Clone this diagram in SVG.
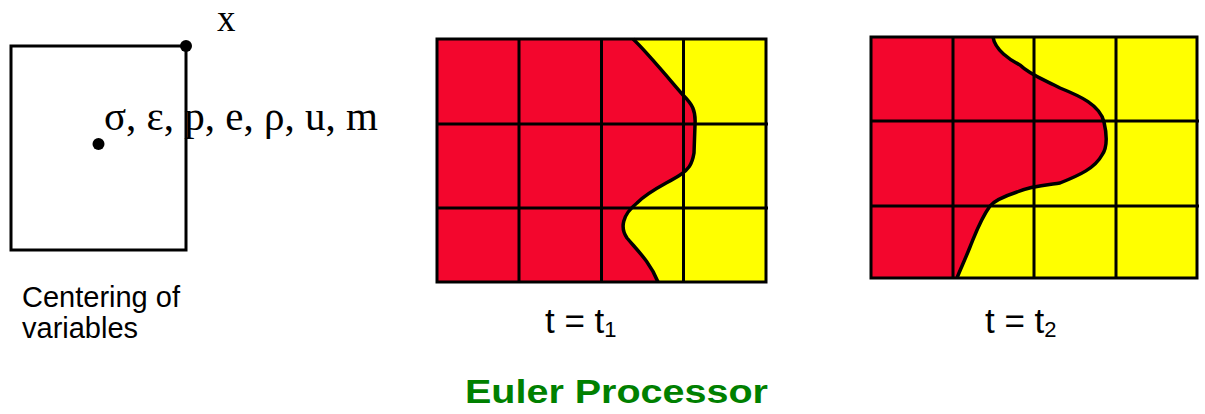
<svg xmlns="http://www.w3.org/2000/svg" width="1205" height="414" viewBox="0 0 1205 414">
<style>
.ln{stroke:#000;stroke-width:3;fill:none}
.cv{stroke:#000;stroke-width:3.5;fill:none;stroke-linejoin:round}
.red{fill:#f3062d}
.yel{fill:#ffff00}
.serif{font-family:"Liberation Serif","Times New Roman",serif;fill:#000}
.sans{font-family:"Liberation Sans",Arial,sans-serif;fill:#000}
</style>
<rect width="1205" height="414" fill="#fff"/>
<g id="cell">
<rect x="11" y="46" width="175" height="204" class="ln"/>
<circle cx="186" cy="46" r="6" fill="#000"/>
<circle cx="98.5" cy="144" r="6" fill="#000"/>
<text x="217" y="31" class="serif" font-size="37">x</text>
<text x="104" y="130" class="serif" font-size="41">σ, ε, p, e, ρ, u, m</text>
<text x="22" y="307" class="sans" font-size="29">Centering of</text>
<text x="22" y="338" class="sans" font-size="29">variables</text>
</g>
<g id="grid1">
<rect x="437" y="39" width="329" height="243" class="yel"/>
<path class="red" d="M437,39 L633,39 C645,50 670,80 683,95 C692,104 696,110 695,125 L694,153 C692,165 688,170 680,175 C668,183 650,190 637,203 C622,215 620,228 627,238 C637,250 650,262 658,282 L437,282 Z"/>
<path class="cv" d="M633,39 C645,50 670,80 683,95 C692,104 696,110 695,125 L694,153 C692,165 688,170 680,175 C668,183 650,190 637,203 C622,215 620,228 627,238 C637,250 650,262 658,282"/>
<rect x="437" y="39" width="329" height="243" class="ln"/>
<path class="ln" d="M519,39V282M601.5,39V282M683.5,39V282M436,124H768M436,208H768"/>
<text x="545" y="333" class="sans" font-size="35">t = t<tspan font-size="22" dy="4">1</tspan></text>
</g>
<g id="grid2">
<rect x="871" y="37" width="326" height="241" class="yel"/>
<path class="red" d="M871,37 L993,37 C995,50 1010,60 1020,65 C1030,75 1045,80 1060,88 C1080,96 1100,105 1104,122 C1107,135 1107,148 1102,155 C1095,168 1080,175 1060,183 C1045,185 1030,186 1017,192 C1005,196 995,200 990,206 C980,220 975,235 970,247 C964,262 960,270 957,278 L871,278 Z"/>
<path class="cv" d="M993,37 C995,50 1010,60 1020,65 C1030,75 1045,80 1060,88 C1080,96 1100,105 1104,122 C1107,135 1107,148 1102,155 C1095,168 1080,175 1060,183 C1045,185 1030,186 1017,192 C1005,196 995,200 990,206 C980,220 975,235 970,247 C964,262 960,270 957,278"/>
<rect x="871" y="37" width="326" height="241" class="ln"/>
<path class="ln" d="M953,37V278M1034,37V278M1116,37V278M871,121H1199M871,206H1199"/>
<text x="985" y="333" class="sans" font-size="35">t = t<tspan font-size="22" dy="4">2</tspan></text>
</g>
<g id="connectors"></g>
<text x="616.5" y="403" text-anchor="middle" font-family="Liberation Sans,Arial,sans-serif" font-weight="bold" font-size="34" fill="#008000" textLength="303" lengthAdjust="spacingAndGlyphs">Euler Processor</text>
</svg>
